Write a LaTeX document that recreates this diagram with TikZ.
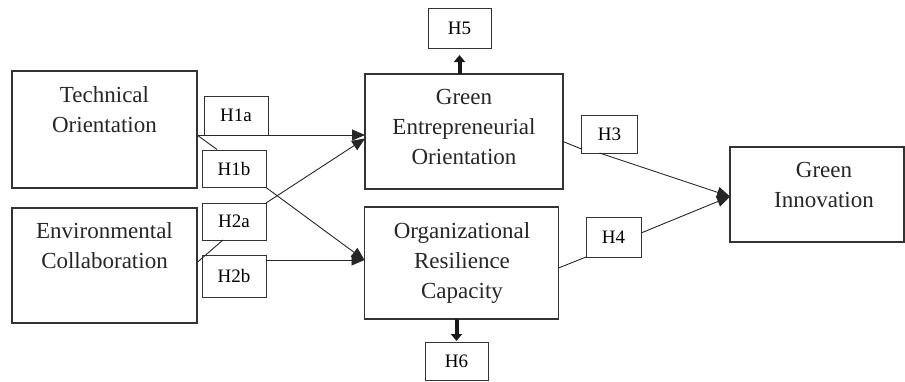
\documentclass[tikz,border=0pt]{standalone}
\usepackage{fontspec}
\setmainfont{Liberation Serif}
\usetikzlibrary{arrows.meta,calc}
\tikzset{
  box/.style={draw=black!80, line width=1.1pt, inner sep=0pt, outer sep=0pt},
  hbox/.style={draw=black!80, line width=1pt, inner sep=0pt, outer sep=0pt, font=\fontsize{19}{22}\selectfont},
  lbl/.style={align=center, inner sep=0pt, anchor=base, font=\fontsize{23}{30}\selectfont, text=black!85},
  conn/.style={draw=black!85, line width=0.9pt},
  arr/.style={conn, -{Triangle[length=13pt,width=11pt]}},
  thick arr/.style={draw=black!90, line width=4pt, -{Triangle[length=7pt,width=11pt]}}
}
\begin{document}
\begin{tikzpicture}[x=1pt,y=-1pt]
\useasboundingbox (0,0) rectangle (905,381);
% main boxes
\node[box, minimum width=185pt, minimum height=117pt] (to) at (104.5,129.5) {};
\node[box, minimum width=185pt, minimum height=115pt] (ec) at (104.5,265.5) {};
\node[box, minimum width=198pt, minimum height=115pt] (geo) at (464,131.5) {};
\node[box, minimum width=194pt, minimum height=112pt] (orc) at (461.5,263) {};
\node[box, minimum width=174pt, minimum height=95pt] (gi) at (817,194.5) {};
% texts (anchor base = baseline of last line)
\node[lbl] (tot) at (104.5,132) {Technical\\Orientation};
\node[lbl] (ect) at (104.5,268) {Environmental\\Collaboration};
\node[lbl] (geot) at (464,164) {Green\\Entrepreneurial\\Orientation};
\node[lbl] (orct) at (462,298) {Organizational\\Resilience\\Capacity};
\node[lbl] (git) at (824,207) {Green\\Innovation};
% hypothesis boxes
\node[hbox, minimum width=64pt, minimum height=39pt] (h1a) at (236,115.5) {H1a};
\node[hbox, minimum width=64pt, minimum height=37pt] (h1b) at (234,169) {H1b};
\node[hbox, minimum width=64pt, minimum height=37pt] (h2a) at (234,221.5) {H2a};
\node[hbox, minimum width=64pt, minimum height=42pt] (h2b) at (234,276) {H2b};
\node[hbox, minimum width=56pt, minimum height=38pt] (h3) at (609.5,134) {H3};
\node[hbox, minimum width=55pt, minimum height=40pt] (h4) at (613.5,237) {H4};
\node[hbox, minimum width=63pt, minimum height=40pt] (h5) at (459.5,28) {H5};
\node[hbox, minimum width=63pt, minimum height=38pt] (h6) at (456.5,361) {H6};
% coordinates on box edges
\coordinate (geoin1) at (geo.west |- h1a.south);
\coordinate (geoin2) at ($(geo.west)+(0,7)$);
\coordinate (orcin) at ($(h2b.north -| orc.west)+(0,5)$);
\coordinate (giin) at ($(gi.west)+(0,2)$);
% connectors
\draw[arr] (to.east |- h1a.south) -- (geoin1);
\draw[conn] (to.east |- h1a.south) -- ($(h1b.north west)+(15,-1)$);
\draw[arr] (h1b.south east) -- (orcin);
\draw[conn] ($(ec.east)+(0,-3)$) -- ($(h2a.south west)+(21,0)$);
\draw[arr] (h2a.north east) -- (geoin2);
\draw[arr] ($(h2b.north east)+(0,5)$) -- (orcin);
\draw[conn] ($(geo.east)+(0,10)$) -- ($(h3.south west)+(0,-4)$);
\draw[arr] ($(h3.south west)+(18,0)$) -- (giin);
\draw[conn] ($(orc.east)+(0,5)$) -- (h4.south west);
\draw[arr] ($(h4.east)+(0,-4)$) -- (giin);
\draw[thick arr, shorten >=7pt] (geo.north -| h5.south) -- (h5.south);
\draw[thick arr, shorten >=1pt] (orc.south -| h6.north) -- (h6.north);
\end{tikzpicture}
\end{document}
